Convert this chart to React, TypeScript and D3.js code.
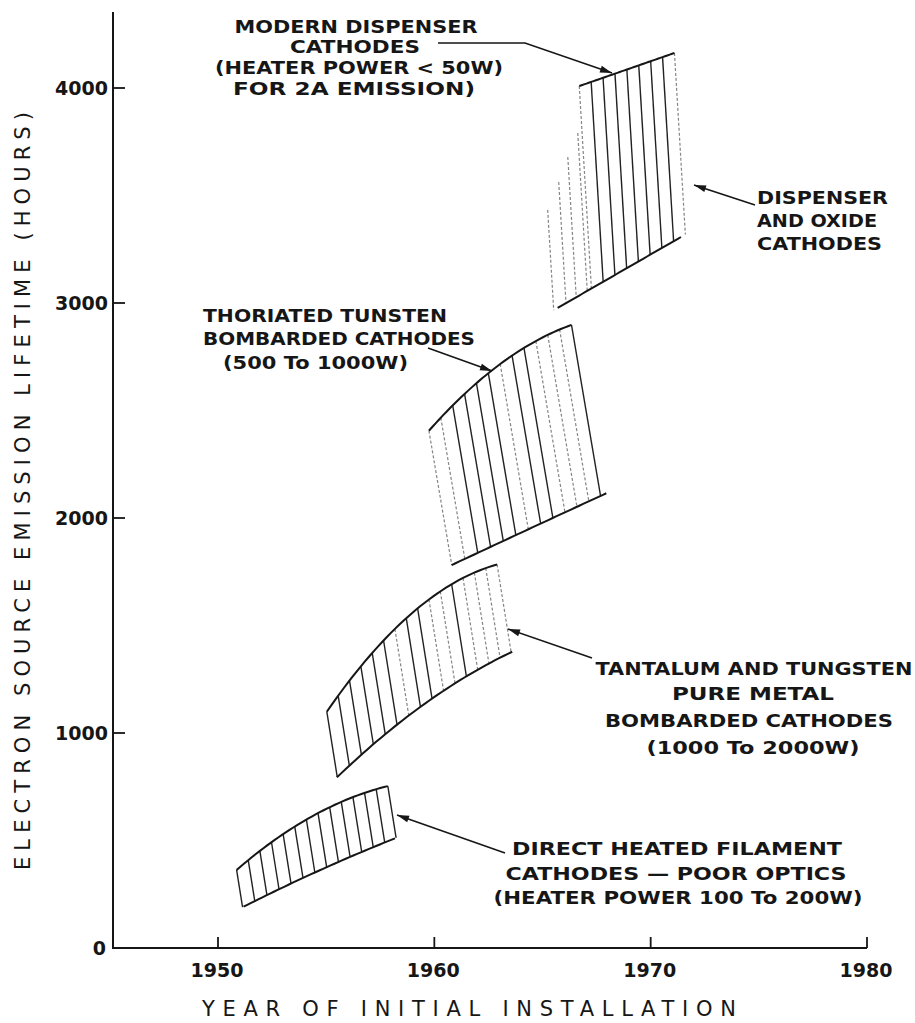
import React from "react";
import * as d3 from "d3";

type P = [number, number];

// ---------- DATA (year, hours) ----------
const xTicks = [1950, 1960, 1970, 1980];
const yTicks = [0, 1000, 2000, 3000, 4000];

const directTop: P[] = [[1950.86, 363], [1954.47, 619], [1957.85, 753]];
const directBottom: P[] = [[1951.18, 192], [1954.67, 360], [1958.18, 510]];

const tantalumTop: P[] = [[1955.03, 1099], [1958.53, 1518], [1962.9, 1784]];
const tantalumBottom: P[] = [[1955.5, 794], [1959.2, 1110], [1963.6, 1378]];

const thoriatedTop: P[] = [[1959.75, 2406], [1962.64, 2685], [1966.34, 2898]];
const thoriatedBottom: P[] = [[1960.8, 1781], [1964.4, 1950], [1967.95, 2115]];

const dispenserTop: P[] = [[1966.7, 4009], [1971.1, 4163]];
const dispenserBottom: P[] = [[1965.7, 2977], [1971.4, 3307]];
const dispenserLeftTops: P[] = [[1965.24, 3433], [1965.75, 3563], [1966.17, 3679], [1966.63, 3791]];

const bands = [
  { id: "direct", top: directTop, bottom: directBottom, extra: [] as P[], n: 14 },
  { id: "tantalum", top: tantalumTop, bottom: tantalumBottom, extra: [] as P[], n: 16 },
  { id: "thoriated", top: thoriatedTop, bottom: thoriatedBottom, extra: [] as P[], n: 13 },
  { id: "dispenser", top: dispenserTop, bottom: dispenserBottom, extra: dispenserLeftTops, n: 9 },
];

// ---------- STYLE / LAYOUT ----------
const W = 915;
const H = 1023;
const INK = "#161616";
const FONT = "'DejaVu Sans', 'Liberation Sans', sans-serif";
const hatchPattern: Record<string, string> = {
  direct: "SSSSSSSSSSSSSS",
  tantalum: "SSSSSSDSSDDSDDDD",
  thoriated: "DDSSSSDSSDDDS",
  dispenser: "DDDD" + "DSSSSSSSD",
};
const hatchSlope: Record<string, number> = {
  direct: 0.16,
  tantalum: 0.16,
  thoriated: 0.17,
  dispenser: 0.06,
};

type Line = { t: string; x: number; y: number; w: number; anchor?: string };
const annotations: { lines: Line[]; size: number; arrow: P[] }[] = [
  {
    size: 17,
    lines: [
      { t: "MODERN DISPENSER", x: 356, y: 33, w: 243 },
      { t: "CATHODES", x: 355, y: 53, w: 130 },
      { t: "(HEATER POWER < 50W)", x: 359, y: 74, w: 288 },
      { t: "FOR 2A EMISSION)", x: 354, y: 95, w: 242 },
    ],
    arrow: [[438, 43], [525, 43], [612, 73]],
  },
  {
    size: 17.5,
    lines: [
      { t: "DISPENSER", x: 757, y: 204, w: 131, anchor: "start" },
      { t: "AND OXIDE", x: 757, y: 227, w: 120, anchor: "start" },
      { t: "CATHODES", x: 757, y: 250, w: 125, anchor: "start" },
    ],
    arrow: [[755, 205], [694, 185]],
  },
  {
    size: 17.5,
    lines: [
      { t: "THORIATED TUNSTEN", x: 203, y: 322, w: 244, anchor: "start" },
      { t: "BOMBARDED CATHODES", x: 203, y: 345, w: 272, anchor: "start" },
      { t: "(500 To 1000W)", x: 223, y: 369, w: 185, anchor: "start" },
    ],
    arrow: [[428, 348], [492, 371]],
  },
  {
    size: 17.5,
    lines: [
      { t: "TANTALUM AND TUNGSTEN", x: 754, y: 675, w: 317 },
      { t: "PURE METAL", x: 753, y: 700, w: 162 },
      { t: "BOMBARDED CATHODES", x: 749, y: 727, w: 288 },
      { t: "(1000 To 2000W)", x: 753, y: 754, w: 213 },
    ],
    arrow: [[592, 658], [508, 629]],
  },
  {
    size: 17.5,
    lines: [
      { t: "DIRECT HEATED FILAMENT", x: 677, y: 855, w: 330 },
      { t: "CATHODES \u2014 POOR OPTICS", x: 676, y: 880, w: 341 },
      { t: "(HEATER POWER 100 To 200W)", x: 678, y: 904, w: 369 },
    ],
    arrow: [[505, 853], [397, 815]],
  },
];

// ---------- HELPERS ----------
function lagrange(pts: P[]) {
  return (x: number) => {
    let s = 0;
    for (let i = 0; i < pts.length; i++) {
      let l = 1;
      for (let j = 0; j < pts.length; j++)
        if (j !== i) l *= (x - pts[j][0]) / (pts[i][0] - pts[j][0]);
      s += l * pts[i][1];
    }
    return s;
  };
}

function arrowHead(from: P, to: P, len = 12, half = 3.5) {
  const dx = to[0] - from[0];
  const dy = to[1] - from[1];
  const d = Math.hypot(dx, dy);
  const ux = dx / d, uy = dy / d;
  const bx = to[0] - ux * len, by = to[1] - uy * len;
  return `M${to[0]},${to[1]}L${bx - uy * half},${by + ux * half}L${bx + uy * half},${by - ux * half}Z`;
}

export default function App() {
  const x = d3.scaleLinear().domain([1950, 1980]).range([218, 867]);
  const y = d3.scaleLinear().domain([0, 4000]).range([948, 88]);
  const x0 = 113;
  const yAxisTop = 12;
  const line = d3.line<P>().x((d) => d[0]).y((d) => d[1]);

  const bandEls = bands.map((b) => {
    const tp: P[] = b.top.map((d) => [x(d[0]), y(d[1])]);
    const bp: P[] = b.bottom.map((d) => [x(d[0]), y(d[1])]);
    const tf = lagrange(tp);
    const bf = lagrange(bp);
    const slope = hatchSlope[b.id];
    const sample = (pts: P[], f: (v: number) => number) =>
      d3.range(0, 41).map((i) => {
        const xv = pts[0][0] + ((pts[pts.length - 1][0] - pts[0][0]) * i) / 40;
        return [xv, f(xv)] as P;
      });
    const starts: P[] = [
      ...b.extra.map((d) => [x(d[0]), y(d[1])] as P),
      ...d3.range(b.n).map((i) => {
        const xv = tp[0][0] + ((tp[tp.length - 1][0] - tp[0][0]) * i) / (b.n - 1);
        return [xv, tf(xv)] as P;
      }),
    ];
    const hatches = starts.map(([hx, hy]) => {
      let y1 = bf(hx);
      for (let k = 0; k < 8; k++) y1 = bf(hx + slope * (y1 - hy));
      return [[hx, hy], [hx + slope * (y1 - hy), y1]] as P[];
    });
    const pat = hatchPattern[b.id];
    return (
      <g key={b.id}>
        {hatches.map((h, i) => {
          const solid = pat[i] !== "D";
          return (
            <path
              key={i}
              d={line(h) || ""}
              stroke={solid ? "#222" : "#666"}
              strokeWidth={solid ? 1.4 : 1.2}
              strokeDasharray={solid ? undefined : "3 2"}
              opacity={solid ? 1 : 0.8}
              fill="none"
            />
          );
        })}
        <path d={line(sample(tp, tf)) || ""} stroke={INK} strokeWidth={2} fill="none" />
        <path d={line(sample(bp, bf)) || ""} stroke={INK} strokeWidth={2} fill="none" />
      </g>
    );
  });

  return (
    <svg
      width={W}
      height={H}
      viewBox={`0 0 ${W} ${H}`}
      style={{ position: "absolute", left: 0, top: 0, background: "#fff", display: "block" }}
    >
      <rect width={W} height={H} fill="#fff" />
      {/* axes */}
      <path d={`M${x0},${yAxisTop}V${y(0)}H${x(1980)}`} stroke={INK} strokeWidth={2} fill="none" />
      {xTicks.map((t) => (
        <g key={t}>
          <line x1={x(t)} x2={x(t)} y1={y(0)} y2={y(0) - 11} stroke={INK} strokeWidth={1.8} />
          <text
            x={x(t) - 1}
            y={977}
            textAnchor="middle"
            fontFamily={FONT}
            fontWeight="bold"
            fontSize={19}
            textLength={53}
            lengthAdjust="spacingAndGlyphs"
            fill={INK}
          >
            {t}
          </text>
        </g>
      ))}
      {yTicks.map((t) => (
        <g key={t}>
          {t > 0 && <line x1={x0} x2={x0 + 12} y1={y(t)} y2={y(t)} stroke={INK} strokeWidth={1.8} />}
          <text
            x={t === 0 ? 106 : 108}
            y={y(t) + 7}
            textAnchor="end"
            fontFamily={FONT}
            fontWeight="bold"
            fontSize={19}
            textLength={t === 0 ? undefined : 53}
            lengthAdjust="spacingAndGlyphs"
            fill={INK}
          >
            {t}
          </text>
        </g>
      ))}
      <text
        x={469}
        y={1016}
        textAnchor="middle"
        fontFamily={FONT}
        fontSize={21}
        textLength={534}
        lengthAdjust="spacing"
        fill={INK}
      >
        YEAR OF INITIAL INSTALLATION
      </text>
      <text
        transform={`translate(30,491) rotate(-90)`}
        textAnchor="middle"
        fontFamily={FONT}
        fontSize={21}
        textLength={758}
        lengthAdjust="spacing"
        fill={INK}
      >
        ELECTRON SOURCE EMISSION LIFETIME (HOURS)
      </text>

      {bandEls}

      {annotations.map((a, i) => (
        <g key={i}>
          {a.lines.map((l, j) => (
            <text
              key={j}
              x={l.x}
              y={l.y}
              textAnchor={l.anchor || "middle"}
              fontFamily={FONT}
              fontWeight="bold"
              fontSize={a.size}
              textLength={l.w}
              lengthAdjust="spacingAndGlyphs"
              fill={INK}
            >
              {l.t}
            </text>
          ))}
          <path d={line(a.arrow) || ""} stroke={INK} strokeWidth={1.6} fill="none" />
          <path d={arrowHead(a.arrow[a.arrow.length - 2], a.arrow[a.arrow.length - 1])} fill={INK} />
        </g>
      ))}
    </svg>
  );
}
